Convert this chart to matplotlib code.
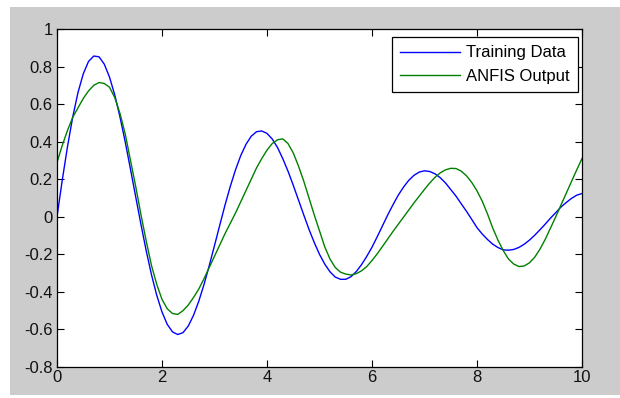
import matplotlib
matplotlib.use('Agg')
import matplotlib.pyplot as plt
import numpy as np
from matplotlib.patches import Rectangle
from matplotlib.ticker import FuncFormatter

# sample positions along x (0 .. 10, step 0.1)
x_vals = np.linspace(0, 10, 101)

training_data = [
    0.000, 0.195, 0.374, 0.532, 0.662, 0.761, 0.827, 0.856, 0.852, 0.813,
    0.744, 0.649, 0.531, 0.398, 0.253, 0.105, -0.042, -0.182, -0.309, -0.418,
    -0.507, -0.573, -0.613, -0.627, -0.617, -0.582, -0.525, -0.450, -0.361, -0.260,
    -0.153, -0.045, 0.062, 0.161, 0.250, 0.326, 0.386, 0.429, 0.453, 0.457,
    0.444, 0.414, 0.369, 0.310, 0.243, 0.168, 0.089, 0.010, -0.067, -0.137,
    -0.200, -0.252, -0.293, -0.321, -0.333, -0.333, -0.319, -0.292, -0.255, -0.211,
    -0.162, -0.106, -0.048, 0.010, 0.064, 0.115, 0.158, 0.194, 0.221, 0.238,
    0.245, 0.241, 0.229, 0.208, 0.180, 0.145, 0.110, 0.069, 0.029, -0.014,
    -0.058, -0.092, -0.121, -0.146, -0.164, -0.176, -0.178, -0.174, -0.163, -0.146,
    -0.124, -0.098, -0.069, -0.039, -0.007, 0.022, 0.052, 0.076, 0.098, 0.115,
    0.124,
]

anfis_output = [
    0.29, 0.38, 0.46, 0.53, 0.58, 0.63, 0.67, 0.70, 0.715, 0.71,
    0.69, 0.635, 0.55, 0.44, 0.30, 0.16, 0.01, -0.13, -0.26, -0.36,
    -0.44, -0.49, -0.515, -0.52, -0.50, -0.47, -0.43, -0.385, -0.33, -0.27,
    -0.21, -0.15, -0.09, -0.035, 0.02, 0.08, 0.14, 0.20, 0.26, 0.31,
    0.355, 0.39, 0.41, 0.415, 0.39, 0.34, 0.27, 0.19, 0.10, 0.01,
    -0.075, -0.16, -0.225, -0.27, -0.295, -0.305, -0.31, -0.303, -0.288, -0.265,
    -0.233, -0.197, -0.158, -0.118, -0.078, -0.04, -0.002, 0.036, 0.074, 0.11,
    0.146, 0.18, 0.21, 0.234, 0.25, 0.258, 0.257, 0.243, 0.218, 0.183,
    0.138, 0.083, 0.015, -0.06, -0.125, -0.18, -0.225, -0.252, -0.265, -0.262,
    -0.245, -0.215, -0.172, -0.12, -0.06, 0.0, 0.063, 0.125, 0.188, 0.25,
    0.31,
]

legend_labels = ['Training Data', 'ANFIS Output']
x_ticks = [0, 2, 4, 6, 8, 10]
y_ticks = [-0.8, -0.6, -0.4, -0.2, 0, 0.2, 0.4, 0.6, 0.8, 1]

plt.rcParams['font.family'] = ['Liberation Sans', 'DejaVu Sans']

fig = plt.figure(figsize=(6.2, 3.98), dpi=100)
fig.patch.set_facecolor('white')
# grey matlab-like figure background
bg = Rectangle((10 / 620, 3 / 398), 610 / 620, 388 / 398,
               transform=fig.transFigure, facecolor='#cccccc',
               edgecolor='none', zorder=-10)
fig.add_artist(bg)

ax = fig.add_axes([57 / 620, 1 - 367 / 398, 525 / 620, 338 / 398])
ax.set_zorder(1)
ax.plot(x_vals, training_data, color='#0000ff', lw=1.0, label=legend_labels[0])
ax.plot(x_vals, anfis_output, color='#008000', lw=1.0, label=legend_labels[1])

ax.set_xlim(0, 10)
ax.set_ylim(-0.8, 1)
ax.set_xticks(x_ticks)
ax.set_yticks(y_ticks)
ax.yaxis.set_major_formatter(FuncFormatter(lambda v, p: '%g' % round(v, 1)))
ax.tick_params(direction='in', length=5, width=0.8, top=True, right=True,
               labelsize=12, colors='black', labelcolor='#111111')
ax.tick_params(axis='x', pad=2)
ax.tick_params(axis='y', pad=3)
for s in ax.spines.values():
    s.set_linewidth(0.9)

leg = ax.legend(loc='upper right', bbox_to_anchor=(578 / 620, 1 - 37 / 398),
                bbox_transform=fig.transFigure, fancybox=False,
                edgecolor='black', framealpha=1, fontsize=12,
                handlelength=3.6, handletextpad=0.35, borderpad=0.5,
                labelspacing=0.5, borderaxespad=0)
leg.get_frame().set_linewidth(0.9)

fig.savefig('out.png', dpi=100, facecolor=fig.get_facecolor())
